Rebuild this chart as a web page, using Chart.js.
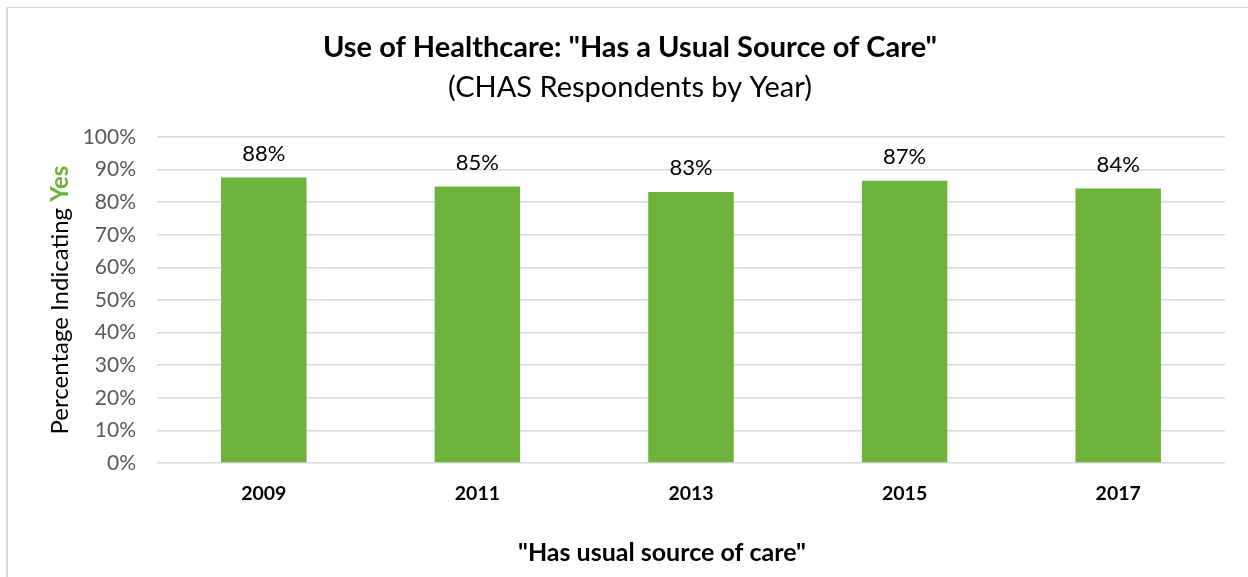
<!DOCTYPE html>
<html>
<head>
<meta charset="utf-8">
<script src="https://cdn.jsdelivr.net/npm/chart.js@4"></script>
<style>
  html, body { margin: 0; padding: 0; background: #fff; }
  #wrap { position: relative; width: 1248px; height: 577px; overflow: hidden; }
  #frame { position: absolute; left: 6px; top: 7px; width: 1260px; height: 600px; border-left: 2px solid #d9d9d9; border-top: 1px solid #d9d9d9; }
  canvas { position: absolute; left: 0; top: 0; }
</style>
</head>
<body>
<div id="wrap">
  <div id="frame"></div>
  <canvas id="careChart" width="1248" height="577"></canvas>
</div>
<script>
const years = ['2009', '2011', '2013', '2015', '2017'];
const pctYes = [87.6, 84.8, 83.1, 86.6, 84.2];
const yTicks = [0, 10, 20, 30, 40, 50, 60, 70, 80, 90, 100];

const titleText = 'Use of Healthcare: "Has a Usual Source of Care"';
const subtitleText = '(CHAS Respondents by Year)';
const xTitleText = '"Has usual source of care"';

const green = '#6db23b';
const fontFam = 'Lato, "Open Sans", sans-serif';

// titles, value labels over bars and the two-colour y axis title
const extras = {
    id: 'extras',
    afterDatasetsDraw(chart) {
        const ctx = chart.ctx;
        const meta = chart.getDatasetMeta(0);
        ctx.save();
        ctx.fillStyle = '#000';
        ctx.textAlign = 'center';
        ctx.textBaseline = 'middle';

        ctx.font = 'bold 29px ' + fontFam;
        ctx.fillText(titleText, 630, 48);
        ctx.font = '29px ' + fontFam;
        ctx.fillText(subtitleText, 630, 88);
        ctx.font = 'bold 25px ' + fontFam;
        ctx.fillText(xTitleText, 662, 553);

        ctx.font = '22px ' + fontFam;
        meta.data.forEach((bar, i) => {
            ctx.fillText(Math.round(pctYes[i]) + '%', bar.x, bar.y - 24);
        });

        // rotated axis title
        const a = 'Percentage Indicating ';
        const b = 'Yes';
        ctx.translate(60, 300);
        ctx.rotate(-Math.PI / 2);
        ctx.font = '24px ' + fontFam;
        const wa = ctx.measureText(a).width;
        ctx.font = 'bold 24px ' + fontFam;
        const wb = ctx.measureText(b).width;
        let x = -(wa + wb) / 2;
        ctx.textAlign = 'left';
        ctx.font = '24px ' + fontFam;
        ctx.fillStyle = '#000';
        ctx.fillText(a, x, 0);
        ctx.font = 'bold 24px ' + fontFam;
        ctx.fillStyle = green;
        ctx.fillText(b, x + wa, 0);
        ctx.restore();
    }
};

const ctx = document.getElementById('careChart').getContext('2d');
const chart = new Chart(ctx, {
    type: 'bar',
    data: {
        labels: years,
        datasets: [{
            label: 'Has usual source of care',
            data: pctYes,
            backgroundColor: green,
            borderWidth: 0,
            barPercentage: 0.4,
            categoryPercentage: 1
        }]
    },
    options: {
        responsive: false,
        animation: false,
        layout: { padding: { left: 0, right: 23, top: 137, bottom: 0 } },
        plugins: {
            legend: { display: false },
            tooltip: { enabled: false },
            title: { display: false }
        },
        scales: {
            x: {
                grid: { display: false, drawTicks: false },
                border: { display: false },
                ticks: {
                    color: '#000',
                    font: { family: fontFam, size: 19.5, weight: 'bold' },
                    padding: 19
                },
                afterFit(scale) { scale.height = 114; }
            },
            y: {
                min: 0,
                max: 100,
                afterBuildTicks(scale) {
                    scale.ticks = yTicks.map(v => ({ value: v }));
                },
                grid: { color: '#d9d9d9', lineWidth: 1.5, drawTicks: false },
                border: { display: false },
                ticks: {
                    color: '#595959',
                    font: { family: fontFam, size: 21 },
                    padding: 21,
                    callback: v => v + '%'
                },
                afterFit(scale) { scale.width = 157; }
            }
        }
    },
    plugins: [extras]
});
</script>
</body>
</html>
